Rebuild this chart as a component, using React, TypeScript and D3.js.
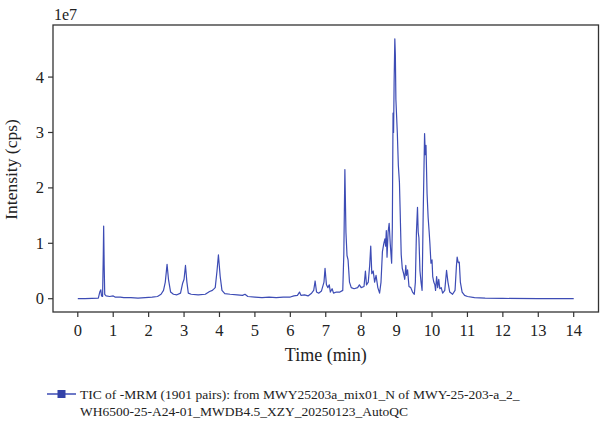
import React from "react";
import * as d3 from "d3";

// Retention time (min) and total ion current (units of 1e7 cps)
const timeMin: number[] = [
  0.0, 0.2, 0.4, 0.58, 0.62, 0.65, 0.67, 0.7, 0.72, 0.73, 0.745, 0.76, 0.8, 0.9, 1.0, 1.05, 1.2, 1.3, 1.5, 1.7, 1.9,
  2.1, 2.25, 2.35, 2.42, 2.47, 2.52, 2.56, 2.62, 2.7, 2.8, 2.9, 2.96, 3.0, 3.04, 3.08, 3.12, 3.2, 3.4, 3.6, 3.72,
  3.8, 3.88, 3.93, 3.97, 4.02, 4.07, 4.15, 4.3, 4.5, 4.65, 4.72, 4.8, 5.0, 5.2, 5.4, 5.6, 5.8, 6.0, 6.1, 6.2, 6.26,
  6.3, 6.4, 6.5, 6.6, 6.66, 6.7, 6.74, 6.8, 6.88, 6.95, 6.98, 7.02, 7.06, 7.1, 7.13, 7.18, 7.22, 7.3, 7.4, 7.48,
  7.51, 7.54, 7.57, 7.6, 7.63, 7.67, 7.72, 7.8, 7.9, 7.95, 8.0, 8.08, 8.12, 8.15, 8.2, 8.24, 8.27, 8.3, 8.34, 8.38,
  8.42, 8.47, 8.52, 8.56, 8.6, 8.64, 8.67, 8.69, 8.71, 8.73, 8.76, 8.79, 8.82, 8.86, 8.88, 8.9, 8.915, 8.93, 8.95,
  8.965, 8.98, 9.02, 9.05, 9.08, 9.1, 9.13, 9.16, 9.2, 9.23, 9.26, 9.28, 9.31, 9.35, 9.4, 9.45, 9.5, 9.53, 9.56,
  9.59, 9.61, 9.63, 9.66, 9.69, 9.72, 9.75, 9.79, 9.81, 9.83, 9.86, 9.89, 9.92, 9.94, 9.97, 10.0, 10.02, 10.05,
  10.08, 10.1, 10.13, 10.16, 10.19, 10.22, 10.26, 10.3, 10.36, 10.41, 10.45, 10.5, 10.58, 10.65, 10.69, 10.71,
  10.74, 10.77, 10.8, 10.85, 10.92, 11.0, 11.2, 11.5, 12.0, 13.0, 14.0,
];

const intensity: number[] = [
  0.0, 0.0, 0.005, 0.01, 0.12, 0.16, 0.05, 0.04, 0.8, 1.31, 0.6, 0.08, 0.05, 0.04, 0.05, 0.03, 0.03, 0.02, 0.02, 0.01, 0.02,
  0.03, 0.04, 0.08, 0.15, 0.3, 0.62, 0.35, 0.12, 0.08, 0.07, 0.1, 0.28, 0.35, 0.6, 0.3, 0.1, 0.08, 0.07, 0.08, 0.13,
  0.15, 0.2, 0.5, 0.79, 0.4, 0.15, 0.09, 0.08, 0.07, 0.06, 0.08, 0.04, 0.03, 0.02, 0.03, 0.02, 0.03, 0.03, 0.05, 0.06, 0.12,
  0.06, 0.07, 0.05, 0.1, 0.15, 0.32, 0.12, 0.1, 0.14, 0.3, 0.55, 0.25, 0.2, 0.25, 0.12, 0.18, 0.1, 0.12, 0.12, 0.15,
  0.8, 2.33, 1.2, 0.78, 0.7, 0.3, 0.2, 0.18, 0.2, 0.25, 0.2, 0.22, 0.5, 0.25, 0.3, 0.6, 0.95, 0.45, 0.5, 0.3,
  0.42, 0.2, 0.1, 0.3, 0.85, 1.0, 1.08, 0.95, 1.23, 0.75, 1.2, 1.36, 1.0, 0.64, 1.3, 3.35, 3.0, 3.9, 4.69,
  4.4, 3.6, 3.0, 2.4, 2.1, 1.6, 0.8, 0.55, 0.45, 0.35, 0.6, 0.42, 0.52, 0.22, 0.2, 0.12, 0.08, 0.3, 1.2,
  1.65, 1.2, 1.1, 0.5, 0.3, 0.15, 1.5, 2.98, 2.6, 2.77, 1.9, 1.47, 1.2, 1.0, 0.64, 0.7, 0.4, 0.3,
  0.25, 0.15, 0.4, 0.2, 0.35, 0.18, 0.2, 0.1, 0.15, 0.51, 0.3, 0.12, 0.08, 0.15, 0.6, 0.75,
  0.65, 0.66, 0.3, 0.12, 0.06, 0.04, 0.02, 0.01, 0.005, 0.0, 0.0,
];

const xTicks: number[] = [0, 1, 2, 3, 4, 5, 6, 7, 8, 9, 10, 11, 12, 13, 14];
const yTicks: number[] = [0, 1, 2, 3, 4];

const legendLines: string[] = [
  "TIC of -MRM (1901 pairs): from MWY25203a_mix01_N of MWY-25-203-a_2_",
  "WH6500-25-A24-01_MWDB4.5_XZY_20250123_AutoQC",
];

const W = 600;
const H = 422;
const frame = { left: 53, right: 598.5, top: 25, bottom: 312 };
const lineColor = "#3d4cb5";
const axisColor = "#333";
const font = "'Liberation Serif', 'Times New Roman', serif";

export default function App() {
  const x = d3.scaleLinear().domain([-0.7, 14.7]).range([frame.left, frame.right]);
  const y = d3.scaleLinear().domain([-0.24, 4.94]).range([frame.bottom, frame.top]);

  const points = timeMin.map((t, i) => [t, intensity[i]] as [number, number]);
  const path = d3
    .line<[number, number]>()
    .x((d) => x(d[0]))
    .y((d) => y(d[1]))(points) as string;

  const legendY = 394;

  return (
    <svg
      width={W}
      height={H}
      viewBox={`0 0 ${W} ${H}`}
      style={{ position: "absolute", left: 0, top: 0, background: "#fff" }}
      fontFamily={font}
    >
      <rect x={0} y={0} width={W} height={H} fill="#fff" />

      {/* trace */}
      <path d={path} fill="none" stroke={lineColor} strokeWidth={1.2} strokeLinejoin="round" />

      {/* frame */}
      <rect
        x={frame.left}
        y={frame.top}
        width={frame.right - frame.left}
        height={frame.bottom - frame.top}
        fill="none"
        stroke={axisColor}
        strokeWidth={1.3}
      />

      {/* x axis */}
      {xTicks.map((t) => (
        <g key={`x${t}`}>
          <line x1={x(t)} x2={x(t)} y1={frame.bottom} y2={frame.bottom + 5} stroke={axisColor} strokeWidth={1.2} />
          <text x={x(t)} y={frame.bottom + 23.5} textAnchor="middle" fontSize={16.5} fill="#222">
            {t}
          </text>
        </g>
      ))}
      <text x={(x(0) + x(14)) / 2} y={361} textAnchor="middle" fontSize={18} fill="#222">
        Time (min)
      </text>

      {/* y axis */}
      {yTicks.map((v) => (
        <g key={`y${v}`}>
          <line x1={frame.left - 5} x2={frame.left} y1={y(v)} y2={y(v)} stroke={axisColor} strokeWidth={1.2} />
          <text x={frame.left - 9} y={y(v) + 5.5} textAnchor="end" fontSize={16.5} fill="#222">
            {v}
          </text>
        </g>
      ))}
      <text x={54} y={20} fontSize={16} fill="#222">
        1e7
      </text>
      <text
        transform={`translate(17, ${(frame.top + frame.bottom) / 2 + 1}) rotate(-90)`}
        textAnchor="middle"
        fontSize={17.5}
        fill="#222"
      >
        Intensity (cps)
      </text>

      {/* legend */}
      <line x1={47} x2={76} y1={legendY} y2={legendY} stroke={lineColor} strokeWidth={1.5} />
      <rect x={57.5} y={legendY - 4} width={8} height={8} fill="#3342a8" />
      {legendLines.map((s, i) => (
        <text key={i} x={80} y={398.5 + i * 17} fontSize={13.5} fill="#222">
          {s}
        </text>
      ))}
    </svg>
  );
}
